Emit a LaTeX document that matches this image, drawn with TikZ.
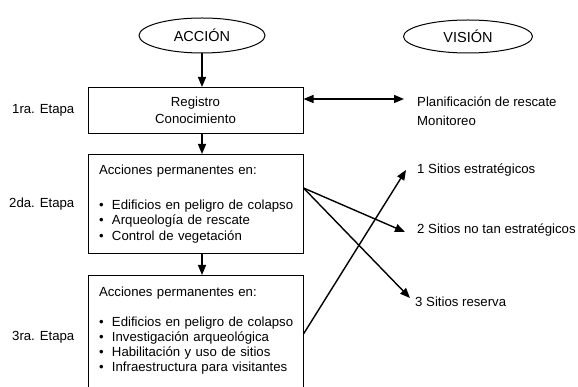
\documentclass[tikz,border=0pt]{standalone}
\usepackage{fontspec}
\setmainfont{Liberation Sans}
\usetikzlibrary{arrows.meta,positioning,shapes.geometric}
\newcommand{\punto}[1]{\mbox{\makebox[13pt][l]{\textbullet}#1}}

\begin{document}
\begin{tikzpicture}[x=1pt,y=-1pt,>={Triangle[length=10pt,width=8pt]},
 font=\fontsize{13.2}{15.5}\selectfont,node distance=20pt,
 caja/.style={draw,line width=1pt,minimum width=215pt,inner xsep=11pt,inner ysep=0pt},
 lista/.style={caja,text width=193pt,align=left},
 elipse/.style={draw,ellipse,line width=1pt,inner sep=0pt,font=\fontsize{14.5}{17}\selectfont},
 etapa/.style={inner sep=0pt,left=13pt of #1},
 meta/.style={anchor=west,inner sep=0pt,align=left},
 flecha/.style={->,line width=1.4pt}]
\useasboundingbox (0,0) rectangle (578,387);
\node[elipse,minimum width=126pt,minimum height=35pt] (accion) at (202,35.5) {ACCIÓN};
\node[elipse,minimum width=129pt,minimum height=33pt] (vision) at (468,36.5) {VISIÓN};
\node[caja,align=center,minimum height=46pt,anchor=north,
 font=\fontsize{13.2}{17}\selectfont] (reg) at (195.5,87) {Registro\\Conocimiento};
\node[lista,minimum height=99pt,below=20pt of reg] (perm2) {Acciones permanentes en:\\[19pt]
 \punto{Edificios en peligro de colapso}\\
 \punto{Arqueología de rescate}\\
 \punto{Control de vegetación}};
\node[lista,minimum height=117pt,below=21pt of perm2,
 font=\fontsize{13.2}{15}\selectfont] (perm3) {Acciones permanentes en:\\[15pt]
 \punto{Edificios en peligro de colapso}\\
 \punto{Investigación arqueológica}\\
 \punto{Habilitación y uso de sitios}\\
 \punto{Infraestructura para visitantes\rule[-9pt]{0pt}{9pt}}};
\node[etapa=reg] (e1) {1ra. Etapa};
\node[etapa=perm2] (e2) {2da. Etapa};
\node[etapa=perm3,yshift=-3pt] (e3) {3ra. Etapa};
\node[meta,font=\fontsize{13.2}{19}\selectfont] (plan) at (417,111) {Planificación de rescate\\Monitoreo};
\node[meta] (s1) at (417,170) {1 Sitios estratégicos};
\node[meta] (s2) at (417,230) {2 Sitios no tan estratégicos};
\node[meta] (s3) at (415,302) {3 Sitios reserva};
\coordinate (p) at (404,99);
\coordinate (o2) at ([yshift=-34pt]perm2.north east);
\draw[flecha] (accion) -- (reg.north -| accion);
\draw[flecha] (reg.south -| accion) -- (perm2.north -| accion);
\draw[flecha] (perm2.south -| accion) -- (perm3.north -| accion);
\draw[flecha,<->] (reg.east |- p) -- (p);
\draw[flecha] (o2) -- ([xshift=-12pt,yshift=-2pt]s2.west);
\draw[flecha] (o2) -- ([xshift=-5pt,yshift=4pt]s3.west);
\draw[flecha] (perm3.east) -- ([xshift=-11pt]s1.west);
\end{tikzpicture}
\end{document}
